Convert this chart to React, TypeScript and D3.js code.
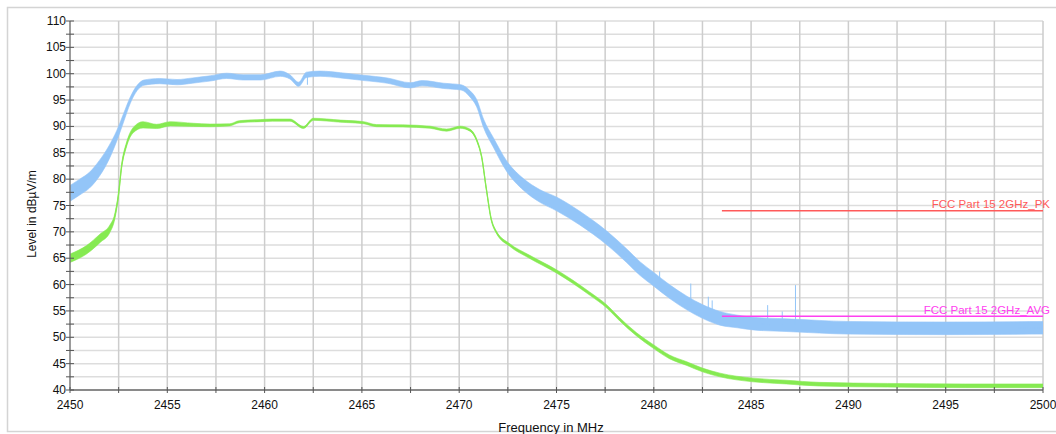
import React from "react";
import * as d3 from "d3";

// ---- Data ----
const xTickLabels = [2450, 2455, 2460, 2465, 2470, 2475, 2480, 2485, 2490, 2495, 2500];
const yTickLabels = [40, 45, 50, 55, 60, 65, 70, 75, 80, 85, 90, 95, 100, 105, 110];

// Peak trace (blue): frequency, centre level, half-width of the noise band
const peakFreq = [2450.0, 2450.5, 2451.0, 2451.5, 2452.0, 2452.4, 2452.75, 2453.1, 2453.45, 2453.8, 2454.6, 2455.5, 2456.3, 2457.2, 2458.05, 2458.9, 2459.8, 2460.8, 2461.3, 2461.75, 2462.15, 2462.85, 2463.9, 2465.1, 2466.3, 2467.5, 2468.1, 2469.2, 2470.1, 2470.55, 2470.9, 2471.25, 2471.75, 2472.45, 2473.3, 2474.15, 2475.0, 2476.2, 2477.6, 2478.6, 2479.3, 2480.0, 2480.8, 2481.7, 2482.5, 2483.4, 2484.3, 2485.1, 2486.8, 2488.5, 2490.0, 2495.0, 2500.0];
const peakLevel = [77.3, 78.5, 79.8, 82.0, 85.0, 88.2, 91.6, 95.0, 97.3, 98.3, 98.6, 98.4, 98.7, 99.1, 99.6, 99.3, 99.3, 100.0, 99.4, 98.0, 99.8, 100.0, 99.7, 99.2, 98.7, 97.8, 98.2, 97.7, 97.4, 96.2, 94.4, 90.6, 87.0, 82.4, 79.0, 76.8, 75.3, 72.6, 68.8, 65.5, 63.0, 61.0, 58.7, 56.5, 54.9, 53.6, 53.0, 52.6, 52.3, 52.0, 51.8, 51.7, 51.8];
const peakSpread = [1.5, 1.5, 1.5, 1.5, 1.3, 1.0, 0.8, 0.6, 0.5, 0.5, 0.5, 0.5, 0.5, 0.5, 0.5, 0.5, 0.5, 0.5, 0.4, 0.4, 0.5, 0.5, 0.5, 0.5, 0.5, 0.5, 0.5, 0.5, 0.5, 0.6, 0.7, 0.8, 0.9, 1.0, 1.1, 1.2, 1.3, 1.3, 1.3, 1.3, 1.3, 1.3, 1.3, 1.3, 1.3, 1.3, 1.2, 1.2, 1.2, 1.2, 1.2, 1.2, 1.2];

// Isolated spikes on the peak trace: frequency, base level, tip level
const spikeFreq = [2462.2, 2480.3, 2481.2, 2481.9, 2482.8, 2483.0, 2485.85, 2486.6, 2487.28];
const spikeBase = [99.6, 60.0, 57.6, 56.3, 54.8, 54.6, 52.5, 52.4, 52.3];
const spikeTip = [97.9, 62.5, 57.7, 60.2, 57.7, 57.0, 56.1, 54.9, 59.9];

// Average trace (green)
const avgFreq = [2450.0, 2450.85, 2451.55, 2452.05, 2452.3, 2452.5, 2452.65, 2452.9, 2453.25, 2453.75, 2454.45, 2455.15, 2456.35, 2457.2, 2458.2, 2458.7, 2459.8, 2460.4, 2461.3, 2462.0, 2462.5, 2463.9, 2465.1, 2465.75, 2467.1, 2468.5, 2469.35, 2470.05, 2470.55, 2470.9, 2471.15, 2471.4, 2471.65, 2471.9, 2472.6, 2473.6, 2475.0, 2475.85, 2476.7, 2477.6, 2478.25, 2479.1, 2480.0, 2480.8, 2481.7, 2482.5, 2483.4, 2485.1, 2486.8, 2488.5, 2492.0, 2496.0, 2500.0];
const avgLevel = [65.0, 66.6, 68.8, 70.6, 72.9, 77.3, 82.4, 86.5, 89.3, 90.3, 90.0, 90.5, 90.3, 90.2, 90.3, 90.9, 91.1, 91.2, 91.2, 89.8, 91.35, 91.0, 90.7, 90.15, 90.1, 89.85, 89.3, 89.85, 89.3, 87.4, 84.3, 78.0, 72.3, 70.0, 67.5, 65.3, 62.5, 60.5, 58.3, 55.8, 53.4, 50.6, 48.2, 46.3, 45.0, 43.8, 42.85, 41.9, 41.5, 41.1, 40.9, 40.8, 40.8];
const avgSpread = [0.8, 0.8, 0.8, 0.7, 0.5, 0.4, 0.4, 0.4, 0.5, 0.6, 0.4, 0.4, 0.3, 0.25, 0.2, 0.2, 0.2, 0.2, 0.2, 0.2, 0.2, 0.2, 0.2, 0.2, 0.2, 0.2, 0.2, 0.2, 0.2, 0.2, 0.2, 0.2, 0.2, 0.2, 0.25, 0.3, 0.3, 0.3, 0.3, 0.3, 0.3, 0.3, 0.35, 0.35, 0.35, 0.35, 0.35, 0.35, 0.35, 0.35, 0.35, 0.35, 0.35];

// Limit lines
const limitNames = ["FCC Part 15 2GHz_PK", "FCC Part 15 2GHz_AVG"];
const limitLevels = [74, 54];
const limitStart = [2483.5, 2483.5];
const limitEnd = [2500, 2500];
const limitColors = ["#ff5a5a", "#ff40f0"];

const PEAK_COLOR = "#93c5f8";
const AVG_COLOR = "#86ea52";
const FONT = "'Liberation Sans', Arial, sans-serif";

export default function App() {
  const W = 1056;
  const H = 434;
  const x = d3.scaleLinear().domain([2450, 2500]).range([70, 1043]);
  const y = d3.scaleLinear().domain([40, 110]).range([390, 21]);

  const xGrid = d3.range(2452.5, 2500.01, 2.5);
  const yGrid = d3.range(42.5, 110.01, 2.5);
  const xMinor = d3.range(2450, 2500.01, 2.5);
  const yMinor = d3.range(40, 110.01, 2.5);

  const peakRows = peakFreq.map((f, i) => ({ f, v: peakLevel[i], s: peakSpread[i] }));
  const avgRows = avgFreq.map((f, i) => ({ f, v: avgLevel[i], s: avgSpread[i] }));

  const band = d3
    .area<{ f: number; v: number; s: number }>()
    .x((d) => x(d.f))
    .y0((d) => y(d.v - d.s))
    .y1((d) => y(d.v + d.s))
    .curve(d3.curveMonotoneX);
  const mid = d3
    .line<{ f: number; v: number; s: number }>()
    .x((d) => x(d.f))
    .y((d) => y(d.v))
    .curve(d3.curveMonotoneX);

  return (
    <svg
      width={W}
      height={H}
      style={{ position: "absolute", left: 0, top: 0, background: "#fff" }}
      fontFamily={FONT}
    >
      <rect x={7.5} y={7.5} width={1060} height={424} fill="#fff" stroke="#d4d4d4" strokeWidth={1.5} />
      <defs>
        <clipPath id="plot">
          <rect x={70} y={21} width={973} height={369} />
        </clipPath>
      </defs>

      {/* grid */}
      {yGrid.map((v) => (
        <line key={"hy" + v} x1={70} x2={1043} y1={y(v)} y2={y(v)} stroke="#dddddd" strokeWidth={1.5} />
      ))}
      {xGrid.map((f) => (
        <line key={"vx" + f} x1={x(f)} x2={x(f)} y1={21} y2={390} stroke="#cdcdcd" strokeWidth={1.5} />
      ))}

      <g clipPath="url(#plot)">
        {/* peak trace */}
        <path d={band(peakRows) || ""} fill={PEAK_COLOR} stroke={PEAK_COLOR} strokeWidth={0.6} />
        <path d={mid(peakRows) || ""} fill="none" stroke={PEAK_COLOR} strokeWidth={1} />
        {spikeFreq.map((f, i) => (
          <line
            key={"sp" + i}
            x1={x(f)}
            x2={x(f)}
            y1={y(spikeBase[i])}
            y2={y(spikeTip[i])}
            stroke={PEAK_COLOR}
            strokeWidth={1}
          />
        ))}
        {/* average trace */}
        <path d={band(avgRows) || ""} fill={AVG_COLOR} stroke={AVG_COLOR} strokeWidth={0.6} />
        <path d={mid(avgRows) || ""} fill="none" stroke={AVG_COLOR} strokeWidth={1.2} />
      </g>

      {/* limit lines */}
      {limitNames.map((name, i) => (
        <g key={name}>
          <line
            x1={x(limitStart[i])}
            x2={x(limitEnd[i])}
            y1={y(limitLevels[i])}
            y2={y(limitLevels[i])}
            stroke={limitColors[i]}
            strokeWidth={1.5}
          />
          <text
            x={1050}
            y={y(limitLevels[i]) - 2.5}
            textAnchor="end"
            fontSize={11.5}
            fill={limitColors[i]}
          >
            {name}
          </text>
        </g>
      ))}

      {/* axes */}
      <line x1={70} x2={70} y1={21} y2={390} stroke="#7a7a7a" strokeWidth={1.5} />
      <line x1={70} x2={1043} y1={390} y2={390} stroke="#8a8a8a" strokeWidth={2} />
      {yMinor.map((v) => (
        <line key={"ty" + v} x1={66} x2={74} y1={y(v)} y2={y(v)} stroke="#555" strokeWidth={1} />
      ))}
      {xMinor.map((f) => (
        <line key={"tx" + f} x1={x(f)} x2={x(f)} y1={387} y2={393} stroke="#555" strokeWidth={1} />
      ))}
      {yTickLabels.map((v) => (
        <text key={"ly" + v} x={66} y={y(v) + 4} textAnchor="end" fontSize={12} fill="#111">
          {v}
        </text>
      ))}
      {xTickLabels.map((f) => (
        <text key={"lx" + f} x={x(f)} y={409} textAnchor="middle" fontSize={12} fill="#111">
          {f}
        </text>
      ))}
      <text x={551} y={432} textAnchor="middle" fontSize={13} fill="#111">
        Frequency in MHz
      </text>
      <text
        transform="translate(36,214) rotate(-90)"
        textAnchor="middle"
        fontSize={12}
        fill="#111"
      >
        Level in dBµV/m
      </text>
    </svg>
  );
}
